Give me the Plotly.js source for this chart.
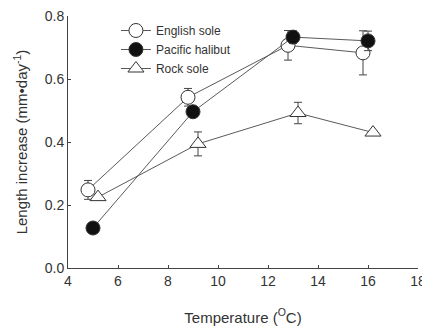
<!DOCTYPE html>
<html>
<head>
<meta charset="utf-8">
<script src="https://cdn.plot.ly/plotly-3.0.1.min.js"></script>
<style>html,body{margin:0;padding:0;background:#fff;}#chart{width:422px;height:330px;}</style>
</head>
<body>
<div id="chart"></div>
<script>
var seriesNames = ["English sole", "Pacific halibut", "Rock sole"];
var englishX = [4.8, 8.8, 12.8, 15.8];
var englishY = [0.248, 0.542, 0.707, 0.683];
var englishErr = [0.03, 0.028, 0.047, 0.07];
var halibutX = [5.0, 9.0, 13.0, 16.0];
var halibutY = [0.127, 0.496, 0.733, 0.721];
var halibutErr = [0.008, 0.01, 0.02, 0.031];
var rockX = [5.2, 9.2, 13.2, 16.2];
var rockY = [0.225, 0.394, 0.492, 0.43];
var rockErr = [0.008, 0.038, 0.034, 0.006];
var xTicks = [4, 6, 8, 10, 12, 14, 16, 18];
var yTicks = [0.0, 0.2, 0.4, 0.6, 0.8];

var lineCol = '#5a5a5a';
function mk(name, x, y, err, symbol, fill) {
  return {
    type: 'scatter', mode: 'lines+markers', name: name, x: x, y: y,
    line: {color: lineCol, width: 1},
    marker: {symbol: symbol, size: 14, color: fill, line: {color: '#333', width: 1}},
    error_y: {type: 'data', array: err, visible: true, color: '#444', thickness: 1, width: 4}
  };
}
var data = [
  mk(seriesNames[0], englishX, englishY, englishErr, 'circle', '#ffffff'),
  mk(seriesNames[1], halibutX, halibutY, halibutErr, 'circle', '#111111'),
  mk(seriesNames[2], rockX, rockY, rockErr, 'triangle-up', '#ffffff')
];
var layout = {
  width: 422, height: 330,
  margin: {l: 68, r: 4, t: 16, b: 62},
  paper_bgcolor: '#fff', plot_bgcolor: '#fff',
  font: {family: 'Liberation Sans, Arial, sans-serif', size: 12, color: '#333'},
  showlegend: true,
  legend: {x: 0.137, y: 1.0, xanchor: 'left', yanchor: 'top', bgcolor: 'rgba(0,0,0,0)',
           font: {size: 12, color: '#333'}, tracegroupgap: 0},
  xaxis: {
    range: [4, 18], tickvals: xTicks, ticktext: xTicks.map(String),
    showgrid: false, zeroline: false, showline: true, linecolor: '#444', linewidth: 1,
    ticks: 'inside', ticklen: 3, tickcolor: '#444', ticklabeloverflow: 'allow',
    tickfont: {size: 14, color: '#333'}, automargin: false,
    title: {text: 'Temperature (<sup>O</sup>C)', font: {size: 15, color: '#333'}, standoff: 24}
  },
  yaxis: {
    range: [0, 0.8], tickvals: yTicks, ticktext: yTicks.map(function(v){return v.toFixed(1);}),
    showgrid: false, zeroline: false, showline: true, linecolor: '#444', linewidth: 1,
    ticks: 'inside', ticklen: 3, tickcolor: '#444',
    tickfont: {size: 14, color: '#333'}, automargin: false,
    title: {text: 'Length increase (mm\u2022day<sup>-1</sup>)', font: {size: 15, color: '#333'}, standoff: 13}
  }
};
Plotly.newPlot('chart', data, layout, {staticPlot: true, displayModeBar: false});
</script>
</body>
</html>
